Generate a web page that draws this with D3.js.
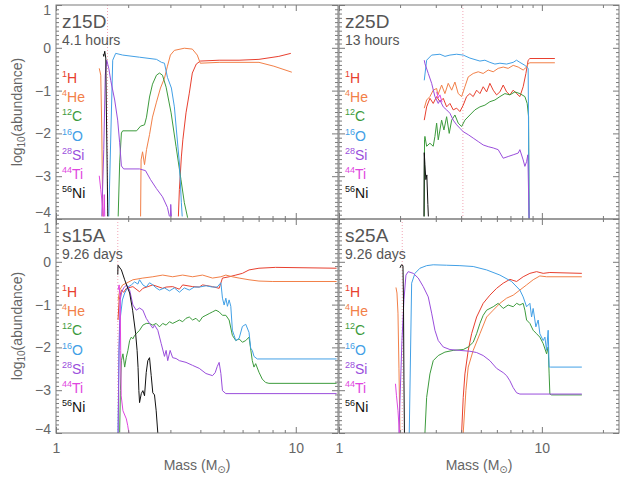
<!DOCTYPE html>
<html>
<head>
<meta charset="utf-8">
<script src="https://cdn.jsdelivr.net/npm/d3@7"></script>
<style>
  body { margin: 0; background: #fff; }
  svg { font-family: "Liberation Sans", "DejaVu Sans", sans-serif; }
</style>
</head>
<body>
<div id="chart"></div>
<script>
// panel names, times and the position of the dotted line (Msun)
let models = ["z15D", "z25D", "s15A", "s25A"];
let times = ["4.1 hours", "13 hours", "9.26 days", "9.26 days"];
let dottedMass = [1.64, 4.08, 1.81, 2.05];
let massMax = [15, 24, 15, 24];
let yMajor = [1, 0, -1, -2, -3, -4];
let xLabels = [1, 10];

// species : mass number, symbol
let isoA = ["1", "4", "12", "16", "28", "44", "56"];
let isoEl = ["H", "He", "C", "O", "Si", "Ti", "Ni"];
let colors = ["#e8402f", "#f28048", "#3d9b3d", "#42a0e6", "#9a4edc", "#e046e0", "#111111"];

// [mass, log10 abundance], null breaks the line
// ---- z15D ----
let z15D_H = [[3.239,-3.94],[3.27,-3.31],[3.333,-2.55],[3.381,-2.15],[3.485,-1.52],[3.597,-1.06],[3.703,-0.59],[3.846,-0.38],[3.997,-0.31],[4.791,-0.29],[5.8,-0.29],[7.022,-0.27],[8.5,-0.2],[9.535,-0.13]];
let z15D_He = [[1.515,-0.48],[1.537,-0.64],[1.552,-1.92],[1.567,-3.94],null,
  [2.253,-3.94],[2.264,-2.62],[2.296,-2.43],[2.34,-2.73],[2.385,-2.38],[2.455,-2.03],[2.526,-1.62],[2.624,-1.27],[2.727,-0.94],[2.834,-0.71],[2.916,-0.43],[3.0,-0.17],[3.117,-0.06],[3.43,-0.01],[3.703,-0.03],[3.883,-0.17],[3.997,-0.36],[4.791,-0.34],[7.022,-0.34],[8.104,-0.43],[9.625,-0.57]];
let z15D_C = [[1.817,-3.94],[1.843,-2.69],[1.874,-1.99],[1.897,-1.94],[2.168,-1.94],[2.253,-1.83],[2.34,-1.8],[2.385,-1.62],[2.455,-1.15],[2.526,-0.85],[2.624,-0.64],[2.701,-0.59],[2.78,-0.64],[2.879,-0.92],[3.02,-1.52],[3.168,-2.31],[3.32,-3.08],[3.43,-3.62],[3.54,-3.97]];
let z15D_O = [[1.66,-3.94],[1.724,-0.29],[1.774,-0.13],[1.897,-0.17],[2.231,-0.22],[2.624,-0.27],[2.754,-0.34],[2.834,-0.36],[2.916,-0.69],[3.029,-0.94],[3.117,-1.38],[3.178,-1.92],[3.27,-2.69],[3.333,-3.62],[3.36,-3.94]];
let z15D_Si = [[1.552,-3.94],[1.582,-2.38],[1.605,-0.64],[1.628,-0.29],[1.66,-0.48],[1.691,-0.76],[1.757,-1.22],[1.808,-1.69],[1.843,-2.22],[1.874,-2.76],[1.915,-2.83],[2.231,-2.83],[2.362,-2.87],[2.479,-3.08],[2.624,-3.29],[2.78,-3.48],[2.916,-3.73],[2.972,-3.94],null,[3.0,-3.94],[3.01,-3.66],[3.03,-3.94]];
let z15D_Ti = [[1.515,-2.99],[1.537,-3.31],[1.56,-3.66],[1.575,-3.94],null,[1.582,-3.94],[1.59,-3.43],[1.597,-3.94]];
let z15D_Ni = [[1.575,-0.15],[1.582,-0.2],[1.597,-0.08],[1.613,-0.24],[1.62,-1.22],[1.633,-2.62],[1.644,-3.94]];

// ---- z25D ----
let z25D_H = [[2.632,-1.69],[2.704,-1.38],[2.807,-1.18],[2.914,-1.3],[3.029,-1.14],[3.144,-1.26],[3.265,-1.18],[3.393,-1.38],[3.523,-1.3],[3.656,-1.45],[3.801,-1.41],[3.945,-1.49],[4.096,-1.34],[4.256,-1.14],[4.418,-1.07],[4.587,-1.14],[4.768,-0.99],[4.951,-1.07],[5.138,-0.91],[5.342,-1.03],[5.543,-0.83],[5.756,-0.99],[5.981,-1.1],[6.211,-1.03],[6.448,-0.87],[6.701,-1.03],[6.957,-1.1],[7.222,-0.99],[7.506,-1.07],[7.792,-1.14],[8.088,-0.91],[8.342,-0.6],[8.56,-0.29],[8.729,-0.25],[11.59,-0.25]];
let z25D_He = [[2.632,-1.41],[2.704,-1.22],[2.807,-1.14],[2.914,-0.99],[3.029,-0.95],[3.074,-1.1],[3.205,-0.87],[3.328,-1.07],[3.455,-0.83],[3.592,-0.99],[3.728,-0.8],[3.87,-1.07],[4.022,-1.14],[4.175,-0.91],[4.335,-0.68],[4.587,-0.6],[4.856,-0.56],[5.138,-0.6],[5.439,-0.52],[5.756,-0.56],[6.09,-0.48],[6.448,-0.45],[6.823,-0.48],[7.222,-0.41],[7.643,-0.45],[8.088,-0.52],[8.407,-0.45],[8.56,-0.37],[8.729,-0.35],[11.59,-0.35]];
let z25D_C = [[2.632,-3.94],[2.64,-2.15],[2.652,-2.07],[2.704,-2.3],[2.807,-2.23],[2.914,-2.3],[2.971,-2.07],[3.029,-1.76],[3.085,-2.15],[3.205,-1.69],[3.29,-1.92],[3.393,-1.61],[3.494,-2.0],[3.592,-1.69],[3.728,-1.57],[3.87,-1.76],[4.022,-1.84],[4.175,-1.69],[4.418,-1.57],[4.677,-1.45],[4.951,-1.38],[5.239,-1.34],[5.543,-1.26],[5.868,-1.22],[6.211,-1.14],[6.572,-1.07],[6.957,-1.1],[7.362,-1.03],[7.792,-1.07],[8.247,-1.14],[8.465,-1.3],[8.6,-1.61],[8.65,-3.99]];
let z25D_O = [[2.632,-0.76],[2.704,-0.29],[2.862,-0.17],[3.144,-0.15],[3.33,-0.2],[3.523,-0.17],[3.801,-0.15],[4.096,-0.17],[4.418,-0.24],[4.951,-0.31],[5.239,-0.29],[5.543,-0.34],[5.868,-0.38],[6.211,-0.36],[6.701,-0.38],[7.222,-0.34],[7.5,-0.29],[7.792,-0.34],[8.247,-0.41],[8.56,-0.48],[8.65,-3.99]];
let z25D_Si = [[2.632,-0.29],[2.652,-0.37],[2.755,-0.6],[2.862,-0.83],[2.971,-1.14],[3.085,-1.3],[3.144,-1.22],[3.265,-1.38],[3.393,-1.45],[3.523,-1.53],[3.656,-1.69],[3.801,-1.8],[3.945,-1.88],[4.096,-1.96],[4.335,-2.03],[4.587,-2.11],[4.856,-2.19],[5.138,-2.27],[5.439,-2.31],[5.756,-2.34],[6.09,-2.38],[6.448,-2.58],[6.823,-2.54],[7.222,-2.5],[7.643,-2.46],[7.792,-2.38],[8.088,-2.62],[8.247,-2.77],[8.407,-2.66],[8.53,-2.5],[8.65,-3.99]];
let z25D_Ti = [[3.029,-1.03],[3.085,-1.17],[3.144,-1.1],[3.22,-1.27]];
let z25D_Ni = [[2.623,-3.94],[2.632,-2.45],[2.652,-2.73],[2.68,-3.08],[2.71,-2.97],[2.742,-3.66],[2.758,-3.94]];

// ---- s15A ----
let s15A_H = [[1.814,-1.36],[1.834,-0.89],[1.874,-0.66],[1.915,-0.71],[1.965,-0.62],[2.093,-0.58],[2.231,-0.7],[2.303,-0.62],[2.533,-0.54],[2.787,-0.62],[2.879,-0.59],[3.066,-0.58],[3.27,-0.64],[3.375,-0.54],[3.713,-0.58],[3.958,-0.59],[4.085,-0.54],[4.494,-0.58],[4.791,-0.62],[4.946,-0.38],[5.272,-0.35],[5.623,-0.31],[5.989,-0.27],[6.383,-0.19],[7.022,-0.15],[8.236,-0.13],[14.8,-0.15]];
let s15A_He = [[1.817,-0.89],[1.843,-0.66],[1.897,-0.54],[1.965,-0.5],[2.093,-0.42],[2.303,-0.38],[2.533,-0.35],[2.787,-0.31],[3.066,-0.35],[3.375,-0.31],[3.713,-0.35],[4.085,-0.31],[4.494,-0.38],[4.871,-0.35],[5.109,-0.31],[5.441,-0.35],[5.803,-0.38],[6.383,-0.42],[7.022,-0.45],[7.973,-0.46],[14.8,-0.46]];
let s15A_C = [[1.843,-3.99],[1.856,-3.01],[1.874,-2.31],[1.902,-2.15],[1.934,-2.46],[1.965,-2.23],[1.995,-2.07],[2.028,-1.84],[2.062,-1.76],[2.093,-1.8],[2.127,-1.72],[2.162,-1.68],[2.231,-1.6],[2.303,-1.48],[2.378,-1.44],[2.455,-1.44],[2.533,-1.48],[2.617,-1.44],[2.701,-1.52],[2.787,-1.44],[2.879,-1.48],[2.972,-1.4],[3.066,-1.44],[3.168,-1.4],[3.27,-1.36],[3.375,-1.4],[3.485,-1.32],[3.597,-1.29],[3.713,-1.36],[3.835,-1.32],[3.958,-1.4],[4.085,-1.29],[4.22,-1.25],[4.355,-1.21],[4.494,-1.17],[4.643,-1.13],[4.791,-1.17],[4.946,-1.25],[5.109,-1.25],[5.272,-1.36],[5.441,-1.72],[5.623,-1.84],[5.803,-1.8],[5.989,-1.88],[6.186,-1.84],[6.383,-1.76],[6.587,-2.31],[6.694,-2.46],[6.804,-2.38],[7.022,-2.58],[7.247,-2.74],[7.486,-2.82],[7.727,-2.84],[14.8,-2.84]];
let s15A_O = [[1.814,-4.0],[1.831,-2.07],[1.856,-1.29],[1.892,-0.89],[1.934,-0.73],[1.995,-0.59],[2.062,-0.54],[2.127,-0.47],[2.195,-0.52],[2.231,-0.42],[2.303,-0.54],[2.378,-0.59],[2.455,-0.49],[2.533,-0.54],[2.617,-0.61],[2.701,-0.66],[2.834,-0.61],[2.972,-0.68],[3.117,-0.61],[3.27,-0.71],[3.43,-0.61],[3.597,-0.66],[3.774,-0.59],[3.958,-0.59],[4.232,-0.56],[4.482,-0.59],[4.701,-0.59],[4.871,-0.49],[4.946,-0.85],[5.026,-1.01],[5.109,-0.85],[5.188,-1.04],[5.272,-0.89],[5.358,-1.04],[5.441,-1.6],[5.623,-1.84],[5.803,-1.79],[5.989,-1.51],[6.186,-1.46],[6.383,-1.65],[6.486,-2.02],[6.587,-2.07],[6.694,-2.21],[6.909,-2.27],[14.8,-2.27]];
let s15A_Si = [[1.817,-4.0],[1.834,-1.84],[1.852,-0.89],[1.879,-0.71],[1.915,-0.61],[1.971,-0.54],[2.028,-0.66],[2.093,-1.01],[2.162,-1.13],[2.231,-1.08],[2.303,-1.13],[2.378,-1.32],[2.455,-1.44],[2.533,-1.55],[2.575,-1.48],[2.658,-1.6],[2.746,-1.91],[2.834,-2.21],[2.879,-2.07],[2.924,-2.31],[2.992,-2.07],[3.066,-2.24],[3.168,-2.26],[3.27,-2.31],[3.485,-2.35],[3.713,-2.42],[3.958,-2.49],[4.22,-2.61],[4.494,-2.66],[4.612,-2.59],[4.701,-2.45],[4.791,-2.35],[4.871,-2.61],[4.946,-3.01],[5.109,-3.08],[14.8,-3.08]];
let s15A_Ti = [[1.814,-0.66],[1.834,-0.54],[1.852,-0.89],[1.861,-2.07],[1.87,-3.13],[1.902,-3.48],[1.965,-3.67],[1.99,-3.82],[2.014,-4.0]];
let s15A_Ni = [[1.81,-0.3],[1.814,-0.08],[1.874,-0.19],[1.934,-0.42],[1.99,-0.61],[2.028,-0.73],[2.087,-1.13],[2.148,-1.67],[2.179,-2.07],[2.199,-2.47],[2.216,-3.01],[2.231,-3.29],[2.268,-3.08],[2.303,-3.01],[2.34,-3.13],[2.378,-2.59],[2.415,-2.31],[2.455,-2.24],[2.495,-2.66],[2.533,-3.06],[2.575,-3.11],[2.617,-3.48],[2.658,-4.0]];

// ---- s25A ----
let s25A_H = [[4.022,-4.0],[4.096,-3.17],[4.175,-2.62],[4.335,-2.07],[4.505,-1.68],[4.768,-1.29],[5.138,-0.97],[5.543,-0.78],[5.981,-0.62],[6.448,-0.5],[6.957,-0.41],[7.506,-0.46],[8.088,-0.35],[8.729,-0.27],[9.417,-0.23],[10.15,-0.27],[10.95,-0.25],[15.74,-0.27]];
let s25A_He = [[1.909,-0.6],[1.931,-0.73],[1.953,-1.2],[1.975,-2.5],[1.998,-4.0],null,
  [4.096,-4.0],[4.222,-3.01],[4.335,-2.46],[4.587,-2.07],[4.951,-1.68],[5.342,-1.29],[5.756,-1.13],[6.211,-0.97],[6.701,-0.85],[7.222,-0.78],[7.792,-0.66],[8.407,-0.54],[9.06,-0.42],[9.774,-0.33],[10.55,-0.35],[15.74,-0.35]];
let s25A_C = [[2.652,-4.0],[2.704,-3.17],[2.807,-2.62],[2.914,-2.31],[3.085,-2.19],[3.328,-2.11],[3.656,-2.07],[4.096,-2.05],[4.335,-1.99],[4.587,-1.88],[4.768,-1.68],[4.951,-1.44],[5.138,-1.25],[5.342,-1.13],[5.756,-1.05],[6.092,-0.97],[6.448,-1.09],[6.823,-1.01],[7.222,-1.05],[7.506,-0.97],[7.792,-1.01],[8.088,-0.97],[8.247,-1.13],[8.407,-1.36],[8.729,-1.44],[9.06,-1.6],[9.417,-1.68],[9.774,-1.76],[10.15,-1.91],[10.55,-2.15],[10.74,-1.99],[10.86,-2.62],[10.95,-3.09],[11.16,-3.11],[15.74,-3.11]];
let s25A_O = [[2.22,-4.0],[2.281,-0.5],[2.368,-0.27],[2.506,-0.15],[2.704,-0.09],[2.914,-0.07],[3.393,-0.08],[3.945,-0.09],[4.587,-0.11],[5.342,-0.19],[6.211,-0.31],[7.09,-0.46],[7.792,-0.66],[8.088,-0.82],[8.407,-1.05],[8.729,-0.97],[8.898,-1.29],[9.06,-1.09],[9.342,-1.52],[9.589,-1.36],[9.774,-1.68],[10.15,-1.84],[10.35,-1.76],[10.55,-2.07],[10.74,-1.6],[10.86,-2.46],[11.04,-2.46],[15.74,-2.46]];
let s25A_Si = [[1.975,-4.0],[1.998,-3.25],[2.043,-1.84],[2.09,-0.89],[2.138,-0.31],[2.194,-0.23],[2.323,-0.27],[2.458,-0.38],[2.602,-0.58],[2.754,-0.82],[2.862,-1.2],[2.971,-1.6],[3.085,-1.84],[3.265,-1.99],[3.523,-2.05],[3.945,-2.07],[4.418,-2.09],[4.768,-2.12],[5.138,-2.19],[5.543,-2.31],[5.981,-2.49],[6.448,-2.59],[6.701,-2.66],[6.957,-2.78],[7.222,-2.94],[7.506,-3.06],[7.792,-3.09],[15.74,-3.09]];
let s25A_Ti = [[1.898,-2.85],[1.92,-3.13],[1.953,-3.48],[1.986,-4.0]];
let s25A_Ni = [[1.998,-0.14],[2.032,-0.07],[2.067,-0.09],[2.079,-0.89],[2.09,-2.78],[2.102,-4.0]];

let curves = [
  [z15D_H, z15D_He, z15D_C, z15D_O, z15D_Si, z15D_Ti, z15D_Ni],
  [z25D_H, z25D_He, z25D_C, z25D_O, z25D_Si, z25D_Ti, z25D_Ni],
  [s15A_H, s15A_He, s15A_C, s15A_O, s15A_Si, s15A_Ti, s15A_Ni],
  [s25A_H, s25A_He, s25A_C, s25A_O, s25A_Si, s25A_Ti, s25A_Ni]
];

// plot boxes in pixels
let frames = [
  {x: [56, 338], y: [5, 219]},
  {x: [339, 619], y: [5, 219]},
  {x: [56, 338], y: [219, 433]},
  {x: [339, 619], y: [219, 433]}
];

let frameColor = "#7a7a7a";
let textColor = "#666";

let svg = d3.select("#chart")
  .append("svg")
  .attr("width", 620)
  .attr("height", 477);

let yMinor = d3.range(-40, 11).filter(k => k % 10 !== 0).map(k => k / 10);

frames.forEach(function(f, i) {
  let x = d3.scaleLog().domain([1, massMax[i]]).range(f.x);
  let y = d3.scaleLinear().domain([-4, 1]).range([f.y[1], f.y[0]]);
  let isLeft = i % 2 === 0;
  let isBottom = i >= 2;
  let xMinor = d3.range(2, massMax[i] + 1).filter(v => v !== 10 && (v < 10 || v % 10 === 0));

  let g = svg.append("g");

  // clip the curves to the box
  svg.append("clipPath")
    .attr("id", "clip" + i)
    .append("rect")
    .attr("x", f.x[0]).attr("y", f.y[0])
    .attr("width", f.x[1] - f.x[0]).attr("height", f.y[1] - f.y[0]);

  // dotted marker
  g.append("line")
    .attr("x1", x(dottedMass[i])).attr("x2", x(dottedMass[i]))
    .attr("y1", f.y[0]).attr("y2", f.y[1])
    .attr("stroke", "#f2a6b6")
    .attr("stroke-width", 1)
    .attr("stroke-dasharray", "1,2");

  // curves
  let line = d3.line()
    .defined(d => d !== null)
    .x(d => x(d[0]))
    .y(d => y(d[1]));

  let cg = g.append("g").attr("clip-path", "url(#clip" + i + ")");
  curves[i].forEach(function(c, k) {
    cg.append("path")
      .datum(c)
      .attr("d", line)
      .attr("fill", "none")
      .attr("stroke", colors[k])
      .attr("stroke-width", 1)
      .attr("stroke-linejoin", "round");
  });

  // ticks on all four sides, pointing inwards
  let addAxis = function(axis, tx, ty) {
    let a = g.append("g")
      .attr("transform", "translate(" + tx + "," + ty + ")")
      .call(axis);
    a.select(".domain").remove();
    a.selectAll(".tick line").attr("stroke", frameColor);
    return a;
  };
  addAxis(d3.axisBottom(x).tickValues(xMinor).tickSize(-3).tickFormat(""), 0, f.y[1]);
  addAxis(d3.axisTop(x).tickValues(xMinor).tickSize(-3).tickFormat(""), 0, f.y[0]);
  addAxis(d3.axisTop(x).tickValues(xLabels).tickSize(-6).tickFormat(""), 0, f.y[0]);
  let xb = addAxis(d3.axisBottom(x).tickValues(xLabels).tickSize(-6).tickPadding(10)
    .tickFormat(isBottom ? d3.format("d") : ""), 0, f.y[1]);
  xb.selectAll(".tick text").attr("fill", textColor).attr("font-size", 14);

  addAxis(d3.axisLeft(y).tickValues(yMinor).tickSize(-3).tickFormat(""), f.x[0], 0);
  addAxis(d3.axisRight(y).tickValues(yMinor).tickSize(-3).tickFormat(""), f.x[1], 0);
  addAxis(d3.axisRight(y).tickValues(yMajor).tickSize(-6).tickFormat(""), f.x[1], 0);
  let yl = addAxis(d3.axisLeft(y).tickValues(yMajor).tickSize(-6).tickPadding(5)
    .tickFormat(isLeft ? (d => d < 0 ? "\u2212" + (-d) : d) : ""), f.x[0], 0);
  // keep end labels inside the panel so they do not collide at the seam
  yl.selectAll(".tick text")
    .attr("fill", textColor)
    .attr("font-size", 14)
    .attr("y", d => d === 1 ? (isBottom ? 9 : 5) : (d === -4 ? (isBottom ? -4 : -7) : 0));

  // frame
  g.append("rect")
    .attr("x", f.x[0]).attr("y", f.y[0])
    .attr("width", f.x[1] - f.x[0]).attr("height", f.y[1] - f.y[0])
    .attr("fill", "none")
    .attr("stroke", frameColor)
    .attr("stroke-width", 1);

  // model name and time
  g.append("text")
    .attr("x", f.x[0] + 6).attr("y", f.y[0] + 23)
    .attr("font-size", 19)
    .attr("fill", "#555")
    .text(models[i]);
  g.append("text")
    .attr("x", f.x[0] + 6).attr("y", f.y[0] + 40)
    .attr("font-size", 14)
    .attr("fill", "#555")
    .text(times[i]);

  // species labels
  isoEl.forEach(function(el, k) {
    let t = g.append("text")
      .attr("x", f.x[0] + 6)
      .attr("y", f.y[0] + 78 + 19.2 * k)
      .attr("fill", colors[k]);
    t.append("tspan").attr("font-size", 9).attr("dy", -6).text(isoA[k]);
    t.append("tspan").attr("font-size", 14).attr("dy", 6).text(el);
  });

  // axis titles
  if (isBottom) {
    let xt = g.append("text")
      .attr("x", (f.x[0] + f.x[1]) / 2)
      .attr("y", 470)
      .attr("text-anchor", "middle")
      .attr("font-size", 14)
      .attr("fill", textColor);
    xt.append("tspan").text("Mass (M");
    xt.append("tspan").attr("font-size", 10).attr("dy", 3).text("\u2299");
    xt.append("tspan").attr("dy", -3).text(")");
  }
  if (isLeft) {
    let yt = g.append("text")
      .attr("transform", "translate(22," + (f.y[0] + f.y[1]) / 2 + ") rotate(-90)")
      .attr("text-anchor", "middle")
      .attr("font-size", 14)
      .attr("fill", textColor);
    yt.append("tspan").text("log");
    yt.append("tspan").attr("font-size", 10).attr("dy", 3).text("10");
    yt.append("tspan").attr("dy", -3).text("(abundance)");
  }
});
</script>
</body>
</html>
